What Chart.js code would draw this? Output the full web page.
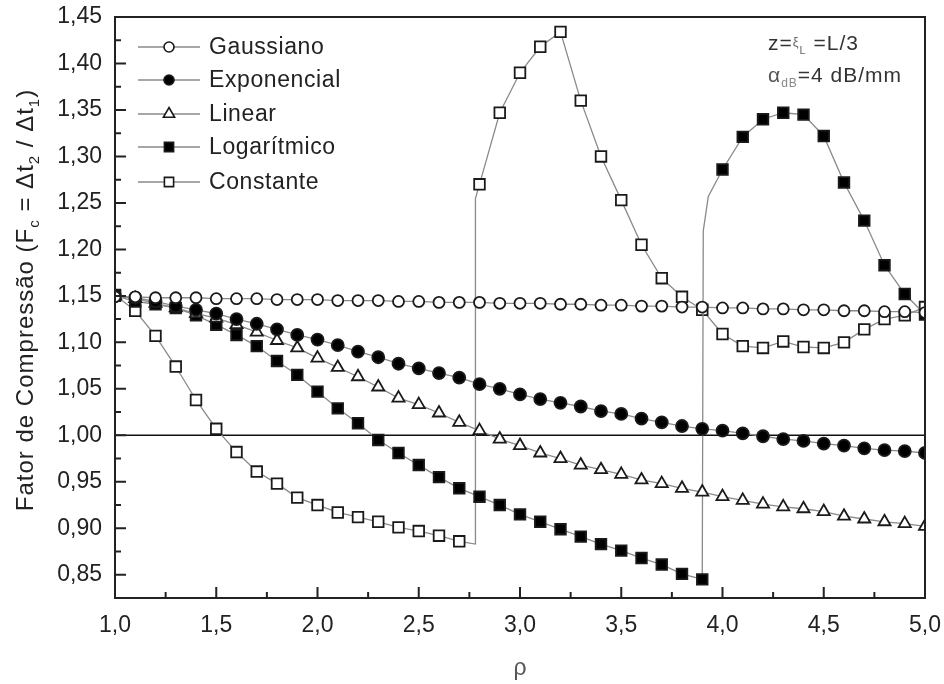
<!DOCTYPE html>
<html>
<head>
<meta charset="utf-8">
<title>Fator de Compressão</title>
<script src="https://cdn.jsdelivr.net/npm/chart.js@4.4.1/dist/chart.umd.min.js"></script>
<style>
    html, body { margin: 0; padding: 0; background: #fff; }
    #wrap { width: 944px; height: 684px; }
</style>
</head>
<body>
<div id="wrap"><canvas id="chart" width="944" height="684"></canvas></div>
<script>
// ---- data ----
const rho = [1.0, 1.1, 1.2, 1.3, 1.4, 1.5, 1.6, 1.7, 1.8, 1.9, 2.0, 2.1, 2.2, 2.3, 2.4, 2.5, 2.6, 2.7, 2.8, 2.9,
             3.0, 3.1, 3.2, 3.3, 3.4, 3.5, 3.6, 3.7, 3.8, 3.9, 4.0, 4.1, 4.2, 4.3, 4.4, 4.5, 4.6, 4.7, 4.8, 4.9, 5.0];

const gaussiano = [1.149, 1.149, 1.148, 1.148, 1.148, 1.147, 1.147, 1.147, 1.146, 1.146, 1.146, 1.145, 1.145, 1.145,
                   1.144, 1.144, 1.143, 1.143, 1.143, 1.142, 1.142, 1.142, 1.141, 1.141, 1.140, 1.140, 1.139, 1.139,
                   1.138, 1.138, 1.137, 1.137, 1.136, 1.136, 1.135, 1.135, 1.134, 1.134, 1.133, 1.133, 1.132];

const exponencial = [1.150, 1.148, 1.144, 1.139, 1.135, 1.131, 1.125, 1.120, 1.114, 1.108, 1.103, 1.097, 1.090, 1.084,
                     1.077, 1.072, 1.067, 1.062, 1.055, 1.050, 1.044, 1.039, 1.035, 1.031, 1.026, 1.023, 1.018, 1.014,
                     1.010, 1.007, 1.005, 1.002, 0.999, 0.996, 0.994, 0.991, 0.989, 0.986, 0.984, 0.983, 0.981];

const linear = [1.150, 1.147, 1.142, 1.137, 1.131, 1.126, 1.119, 1.111, 1.102, 1.094, 1.083, 1.073, 1.063, 1.052,
                1.040, 1.033, 1.024, 1.014, 1.005, 0.996, 0.989, 0.981, 0.975, 0.968, 0.963, 0.958, 0.952, 0.948,
                0.943, 0.939, 0.934, 0.930, 0.926, 0.923, 0.921, 0.918, 0.913, 0.910, 0.907, 0.905, 0.902];

// logarithmic profile jumps at rho = 3.9
const logRho = [1.0, 1.1, 1.2, 1.3, 1.4, 1.5, 1.6, 1.7, 1.8, 1.9, 2.0, 2.1, 2.2, 2.3, 2.4, 2.5, 2.6, 2.7, 2.8, 2.9,
                3.0, 3.1, 3.2, 3.3, 3.4, 3.5, 3.6, 3.7, 3.8, 3.9, 3.905, 3.93,
                4.0, 4.1, 4.2, 4.3, 4.4, 4.5, 4.6, 4.7, 4.8, 4.9, 5.0];
const logaritmico = [1.150, 1.144, 1.141, 1.137, 1.129, 1.119, 1.108, 1.096, 1.080, 1.065, 1.047, 1.029, 1.013, 0.995,
                     0.981, 0.968, 0.955, 0.943, 0.934, 0.925, 0.915, 0.907, 0.899, 0.891, 0.883, 0.876, 0.868, 0.861,
                     0.851, 0.845, 1.220, 1.257,
                     1.286, 1.321, 1.340, 1.347, 1.345, 1.322, 1.272, 1.231, 1.183, 1.152, 1.130];

// constant profile jumps at rho = 2.78
const constRho = [1.0, 1.1, 1.2, 1.3, 1.4, 1.5, 1.6, 1.7, 1.8, 1.9, 2.0, 2.1, 2.2, 2.3, 2.4, 2.5, 2.6, 2.7, 2.78, 2.78,
                  2.8, 2.9, 3.0, 3.1, 3.2, 3.3, 3.4, 3.5, 3.6, 3.7, 3.8, 3.9, 4.0, 4.1, 4.2, 4.3, 4.4, 4.5, 4.6, 4.7,
                  4.8, 4.9, 5.0];
const constante = [1.151, 1.134, 1.107, 1.074, 1.038, 1.007, 0.982, 0.961, 0.948, 0.933, 0.925, 0.917, 0.912, 0.907,
                   0.901, 0.897, 0.892, 0.886, 0.883, 1.255,
                   1.270, 1.347, 1.390, 1.418, 1.434, 1.360, 1.300, 1.253, 1.205, 1.169, 1.149, 1.135, 1.109, 1.096,
                   1.094, 1.101, 1.095, 1.094, 1.100, 1.114, 1.125, 1.129, 1.138];

// reference line Fc = 1
const refRho = [1.0, 5.0];
const refLine = [1.0, 1.0];

const xTicks = [1.0, 1.5, 2.0, 2.5, 3.0, 3.5, 4.0, 4.5, 5.0];
const xTickLabels = ['1,0', '1,5', '2,0', '2,5', '3,0', '3,5', '4,0', '4,5', '5,0'];
const xMinorTicks = [1.25, 1.75, 2.25, 2.75, 3.25, 3.75, 4.25, 4.75];
const yTicks = [0.85, 0.90, 0.95, 1.00, 1.05, 1.10, 1.15, 1.20, 1.25, 1.30, 1.35, 1.40, 1.45];
const yTickLabels = ['0,85', '0,90', '0,95', '1,00', '1,05', '1,10', '1,15', '1,20', '1,25', '1,30', '1,35', '1,40', '1,45'];
const yMinorTicks = [0.875, 0.925, 0.975, 1.025, 1.075, 1.125, 1.175, 1.225, 1.275, 1.325, 1.375, 1.425];

const FONT = "'Liberation Sans', Arial, sans-serif";
const LINE_GRAY = '#8a8a8a';
const INK = '#1a1a1a';

// markers only on the regular 0.1 grid, not on the jump points
function onGrid(x) {
    return Math.abs(x * 10 - Math.round(x * 10)) < 1e-6;
}

function makeSeries(label, xs, ys, style, radius, fill) {
    return {
        label: label,
        data: xs.map((x, i) => ({ x: x, y: ys[i] })),
        borderColor: LINE_GRAY,
        borderWidth: 1.3,
        tension: 0,
        pointStyle: style,
        pointRadius: ctx => (ctx.raw && onGrid(ctx.raw.x) ? radius : 0),
        pointHoverRadius: 0,
        pointBackgroundColor: fill,
        pointBorderColor: INK,
        pointBorderWidth: 1.8
    };
}

const datasets = [
    makeSeries('Gaussiano', rho, gaussiano, 'circle', 5.5, '#ffffff'),
    makeSeries('Exponencial', rho, exponencial, 'circle', 6, '#000000'),
    makeSeries('Linear', rho, linear, 'triangle', 7, '#ffffff'),
    makeSeries('Logarítmico', logRho, logaritmico, 'rect', 7.5, '#000000'),
    makeSeries('Constante', constRho, constante, 'rect', 7.5, '#ffffff'),
    {
        label: '',
        data: refRho.map((x, i) => ({ x: x, y: refLine[i] })),
        borderColor: '#111',
        borderWidth: 1.6,
        pointRadius: 0,
        pointHoverRadius: 0
    }
];

// draw a marker like Chart.js does, fallback if helpers are missing
function marker(ctx, style, r, x, y) {
    if (Chart.helpers && Chart.helpers.drawPoint) {
        Chart.helpers.drawPoint(ctx, { pointStyle: style, radius: r, borderWidth: 1.5, rotation: 0 }, x, y);
        return;
    }
    ctx.beginPath();
    ctx.arc(x, y, r, 0, Math.PI * 2);
    ctx.fill();
    ctx.stroke();
}

// frame + inward ticks (left and bottom only)
const framePlugin = {
    id: 'frame',
    afterDatasetsDraw(chart) {
        const { ctx, chartArea: a } = chart;
        const sx = chart.scales.x, sy = chart.scales.y;
        ctx.save();
        ctx.strokeStyle = '#222';
        ctx.lineWidth = 2;
        ctx.strokeRect(a.left, a.top, a.right - a.left, a.bottom - a.top);
        ctx.beginPath();
        xTicks.forEach(v => { const p = sx.getPixelForValue(v); ctx.moveTo(p, a.bottom); ctx.lineTo(p, a.bottom - 11); });
        xMinorTicks.forEach(v => { const p = sx.getPixelForValue(v); ctx.moveTo(p, a.bottom); ctx.lineTo(p, a.bottom - 6); });
        yTicks.forEach(v => { const p = sy.getPixelForValue(v); ctx.moveTo(a.left, p); ctx.lineTo(a.left + 11, p); });
        yMinorTicks.forEach(v => { const p = sy.getPixelForValue(v); ctx.moveTo(a.left, p); ctx.lineTo(a.left + 6, p); });
        ctx.stroke();
        ctx.restore();
    }
};

// legend inside the plot, line-marker-line samples
const legendPlugin = {
    id: 'insideLegend',
    afterDraw(chart) {
        const ctx = chart.ctx;
        const rows = [47, 80, 114, 147, 182];
        ctx.save();
        ctx.letterSpacing = '0.6px';
        ctx.font = '23px ' + FONT;
        ctx.textBaseline = 'middle';
        for (let i = 0; i < 5; i++) {
            const ds = chart.data.datasets[i];
            const y = rows[i];
            ctx.strokeStyle = LINE_GRAY;
            ctx.lineWidth = 1.3;
            ctx.beginPath();
            ctx.moveTo(138, y);
            ctx.lineTo(200, y);
            ctx.stroke();
            ctx.fillStyle = ds.pointBackgroundColor;
            ctx.strokeStyle = INK;
            ctx.lineWidth = 1.6;
            const r = ds.pointStyle === 'rect' ? 6.5 : (ds.pointStyle === 'triangle' ? 6.5 : 5);
            marker(ctx, ds.pointStyle, r, 169, y);
            ctx.fillStyle = '#222';
            ctx.fillText(ds.label, 209, y + 1);
        }
        ctx.restore();
    }
};

// draws text runs with sub/superscripts, returns end x
function runs(ctx, parts, x, y, measureOnly) {
    let cx = x;
    parts.forEach(p => {
        ctx.font = p.size + 'px ' + FONT;
        ctx.fillStyle = p.color || '#333';
        if (!measureOnly) ctx.fillText(p.t, cx, y + (p.dy || 0));
        cx += ctx.measureText(p.t).width;
    });
    return cx;
}

const textPlugin = {
    id: 'texts',
    afterDraw(chart) {
        const ctx = chart.ctx;
        ctx.save();
        ctx.textBaseline = 'alphabetic';
        ctx.letterSpacing = '1px';
        // annotation top right
        runs(ctx, [
            { t: 'z=', size: 21 },
            { t: 'ξ', size: 13, dy: -4, color: '#666' },
            { t: 'L', size: 11, dy: 4, color: '#666' },
            { t: ' =L/3', size: 21 }
        ], 768, 50);
        runs(ctx, [
            { t: 'α', size: 21, color: '#555' },
            { t: 'dB', size: 12, dy: 5, color: '#888' },
            { t: '=4 dB/mm', size: 21 }
        ], 768, 82);

        // rotated y title
        const title = [
            { t: 'Fator de Compressão (F', size: 24, color: '#222' },
            { t: 'c', size: 15, dy: 6, color: '#222' },
            { t: ' = Δt', size: 24, color: '#222' },
            { t: '2', size: 15, dy: 6, color: '#222' },
            { t: ' / Δt', size: 24, color: '#222' },
            { t: '1', size: 15, dy: 6, color: '#222' },
            { t: ')', size: 24, color: '#222' }
        ];
        const w = runs(ctx, title, 0, 0, true);
        ctx.translate(33, 300);
        ctx.rotate(-Math.PI / 2);
        runs(ctx, title, -w / 2, 0);
        ctx.restore();
    }
};

new Chart(document.getElementById('chart'), {
    type: 'line',
    data: { datasets: datasets },
    plugins: [framePlugin, legendPlugin, textPlugin],
    options: {
        responsive: false,
        animation: false,
        devicePixelRatio: 1,
        layout: { padding: { left: 0, top: 17, right: 19, bottom: 0 } },
        plugins: {
            legend: { display: false },
            tooltip: { enabled: false }
        },
        scales: {
            x: {
                type: 'linear',
                min: 1,
                max: 5,
                afterBuildTicks: s => { s.ticks = xTicks.map(v => ({ value: v })); },
                afterFit: s => { s.height = 86; s.paddingLeft = 0; s.paddingRight = 0; },
                ticks: {
                    callback: (v, i) => xTickLabels[i],
                    font: { family: FONT, size: 23 },
                    color: '#222',
                    padding: 14,
                    maxRotation: 0,
                    autoSkip: false
                },
                grid: { display: false, drawTicks: false },
                border: { display: false },
                title: {
                    display: true,
                    text: 'ρ',
                    font: { family: FONT, size: 23 },
                    color: '#555',
                    padding: { top: 0, bottom: 2 }
                }
            },
            y: {
                type: 'linear',
                min: 0.825,
                max: 1.45,
                afterBuildTicks: s => { s.ticks = yTicks.map(v => ({ value: v })); },
                afterFit: s => { s.width = 115; s.paddingTop = 0; s.paddingBottom = 0; },
                ticks: {
                    callback: (v, i) => yTickLabels[i],
                    font: { family: FONT, size: 23 },
                    color: '#222',
                    padding: 13,
                    autoSkip: false
                },
                grid: { display: false, drawTicks: false },
                border: { display: false }
            }
        }
    }
});
</script>
</body>
</html>
